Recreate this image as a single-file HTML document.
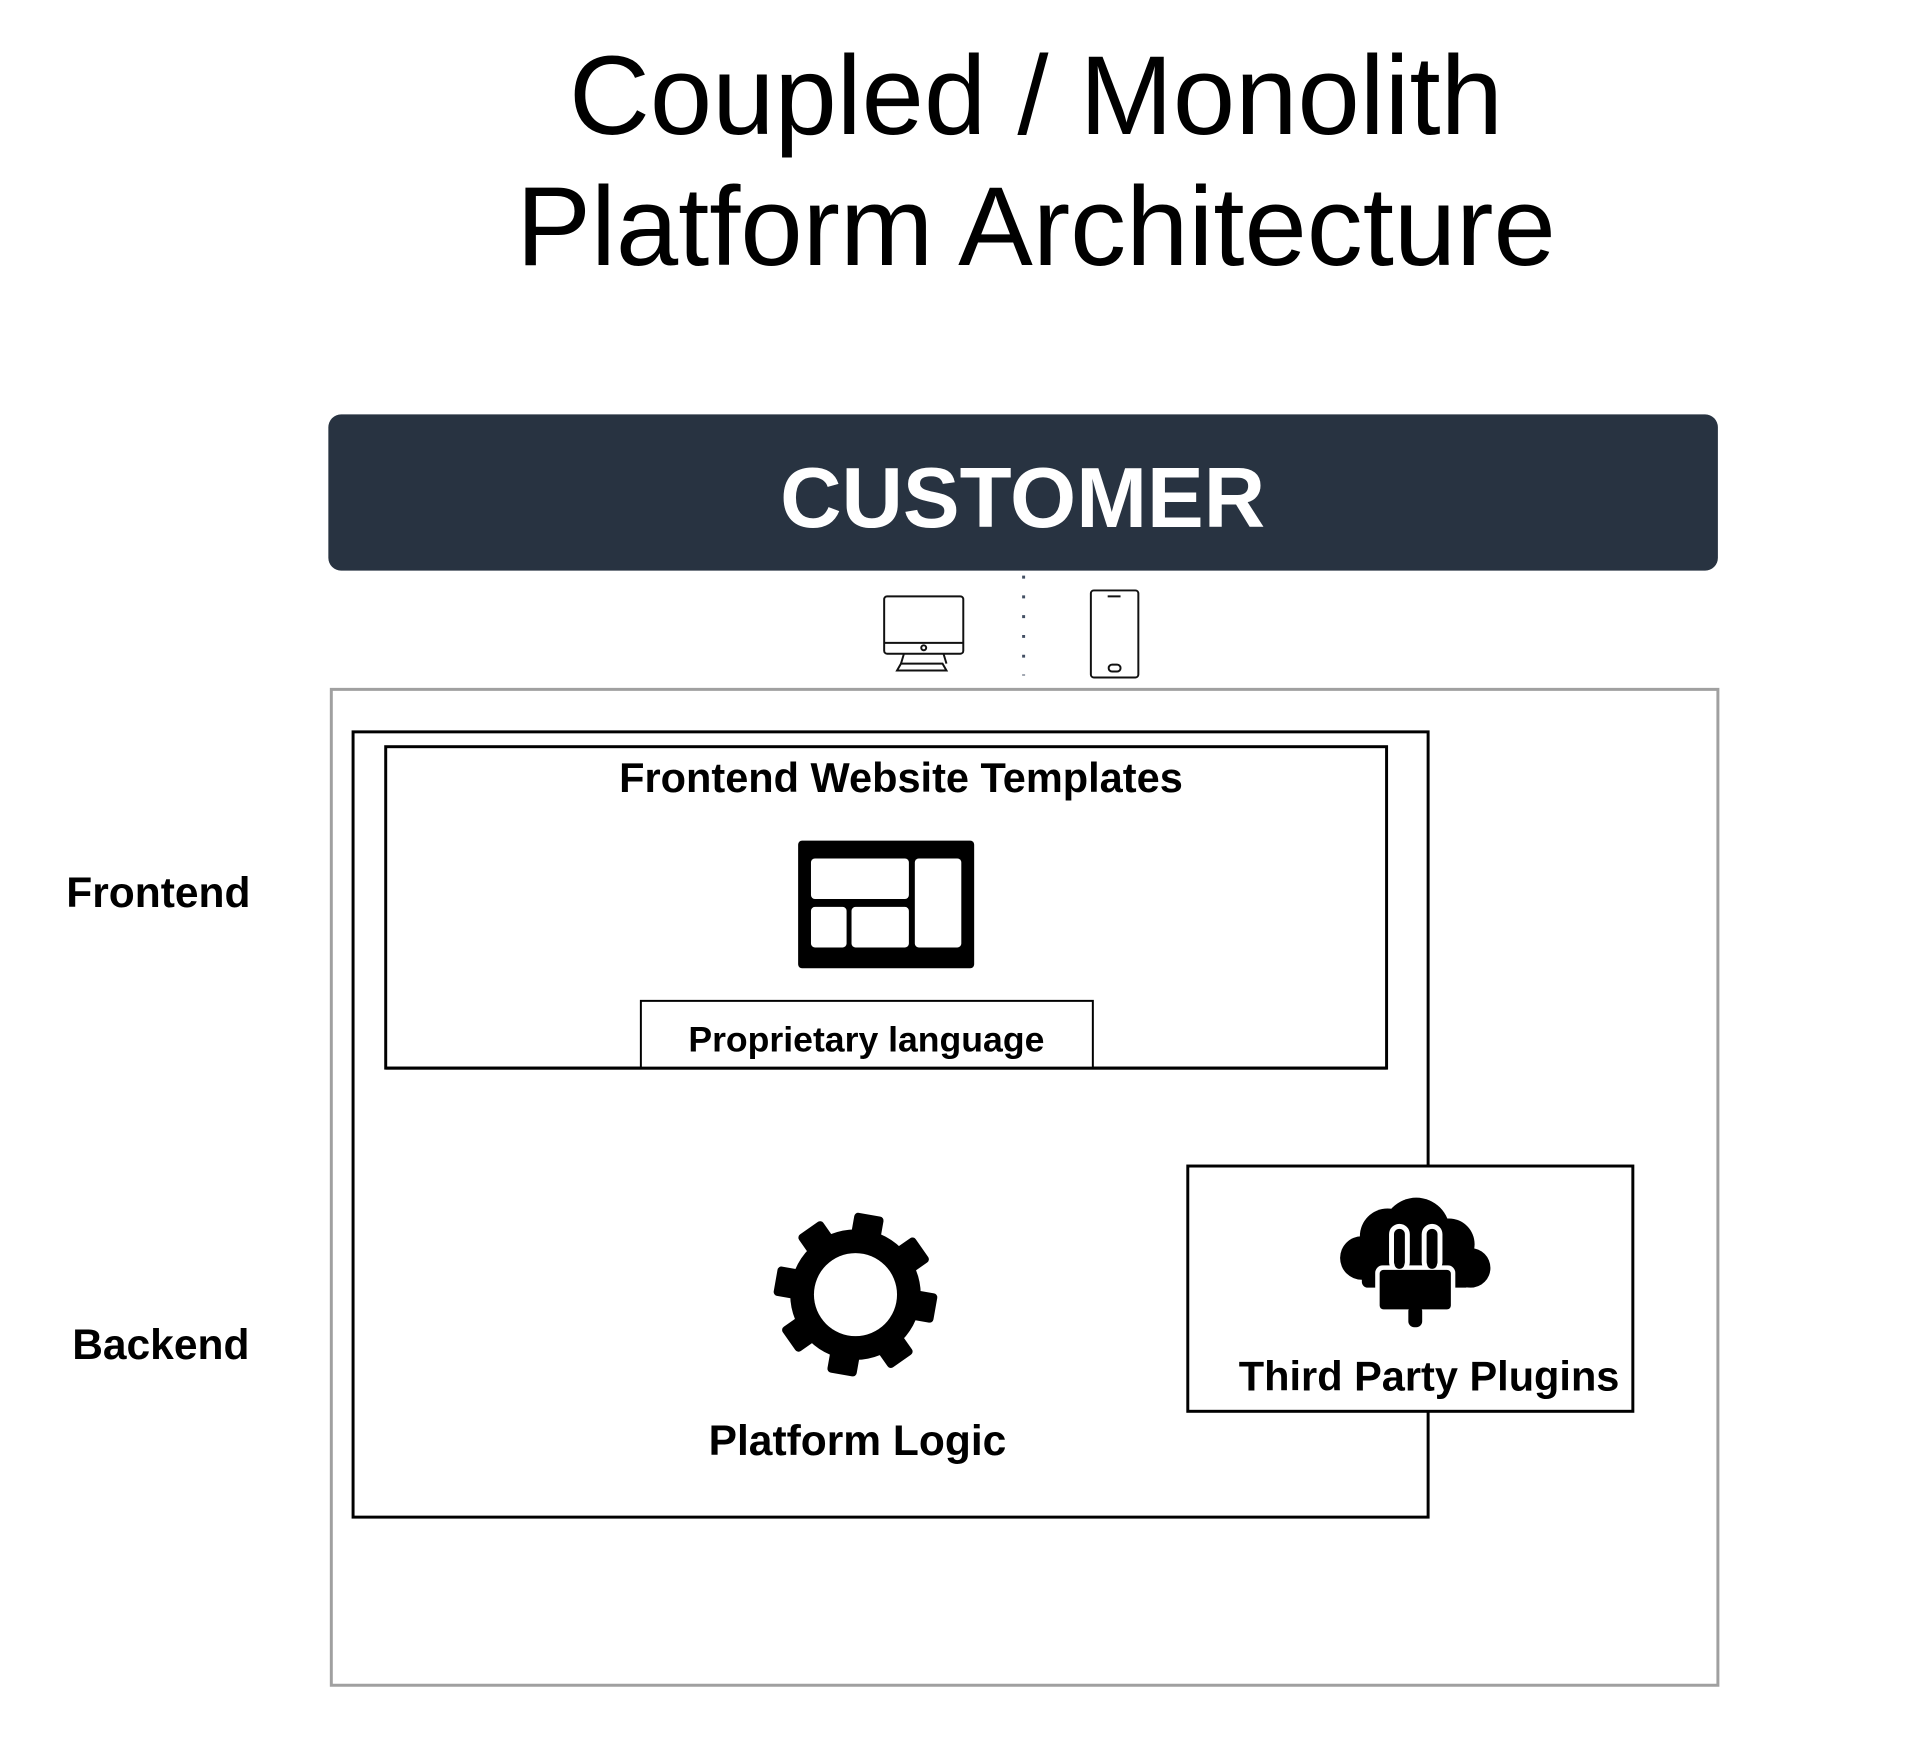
<!DOCTYPE html>
<html><head><meta charset="utf-8"><style>
html,body{margin:0;padding:0;background:#fff;}
svg{display:block;}
text{font-family:"Liberation Sans",sans-serif;}
</style></head><body>
<svg width="1918" height="1750" viewBox="0 0 1918 1750" xmlns="http://www.w3.org/2000/svg">
<text x="1036" y="134" font-size="112" text-anchor="middle" fill="#000">Coupled / Monolith</text>
<text x="1036" y="265" font-size="112" text-anchor="middle" fill="#000">Platform Architecture</text>

<g transform="scale(0.989)">
<rect x="332" y="419" width="1405" height="158" rx="13" fill="#283341"/>
<text x="1034" y="533" font-size="86" font-weight="bold" text-anchor="middle" fill="#fff">CUSTOMER</text>

<g transform="translate(0,7)">
<g fill="none" stroke="#111" stroke-width="2">
<rect x="894" y="596" width="80" height="58" rx="3"/>
<line x1="894" y1="643" x2="974" y2="643"/>
<circle cx="934" cy="648" r="2.5"/>
<path d="M914 654 L911 664 M954 654 L957 664"/>
<path d="M911 664 L953 664 L957 671 L907 671 Z"/>
<rect x="1103" y="590" width="48" height="88" rx="3"/>
<line x1="1120" y1="596" x2="1133" y2="596"/>
<rect x="1121" y="665" width="12" height="7" rx="3.5"/>
</g>
<line x1="1035" y1="575" x2="1035" y2="676" stroke="#445064" stroke-width="3" stroke-dasharray="3,17"/>
</g>

<path d="M335 697 H1737 V1704 H335 Z" fill="none" stroke="#a0a0a0" stroke-width="3"/>
<rect x="357" y="740" width="1087" height="794" fill="none" stroke="#000" stroke-width="3"/>
<rect x="390" y="755" width="1012" height="325" fill="none" stroke="#000" stroke-width="3"/>
<text x="911" y="801" font-size="42" font-weight="bold" text-anchor="middle">Frontend Website Templates</text>

<rect x="807" y="850" width="178" height="129" rx="4" fill="#000"/>
<g fill="#fff">
<rect x="820" y="868" width="99" height="41" rx="4"/>
<rect x="925" y="868" width="47" height="90" rx="4"/>
<rect x="820" y="917" width="36" height="41" rx="4"/>
<rect x="861" y="917" width="58" height="41" rx="4"/>
</g>

<rect x="648" y="1012" width="457" height="68" fill="#fff" stroke="#000" stroke-width="2"/>
<line x1="390" y1="1080" x2="1402" y2="1080" stroke="#000" stroke-width="3"/>
<text x="876" y="1063" font-size="36" font-weight="bold" text-anchor="middle">Proprietary language</text>

<text x="67" y="917" font-size="43" font-weight="bold">Frontend</text>
<text x="73" y="1374" font-size="43" font-weight="bold">Backend</text>

<g transform="translate(865,1309)">
<circle r="66" fill="#000"/>
<g fill="#000">
<rect x="-15" y="-82" width="30" height="30" rx="4" transform="rotate(10)"/>
<rect x="-15" y="-82" width="30" height="30" rx="4" transform="rotate(55)"/>
<rect x="-15" y="-82" width="30" height="30" rx="4" transform="rotate(100)"/>
<rect x="-15" y="-82" width="30" height="30" rx="4" transform="rotate(145)"/>
<rect x="-15" y="-82" width="30" height="30" rx="4" transform="rotate(190)"/>
<rect x="-15" y="-82" width="30" height="30" rx="4" transform="rotate(235)"/>
<rect x="-15" y="-82" width="30" height="30" rx="4" transform="rotate(280)"/>
<rect x="-15" y="-82" width="30" height="30" rx="4" transform="rotate(325)"/>
</g>
<circle r="42" fill="#fff"/>
</g>
<text x="867" y="1471" font-size="43" font-weight="bold" text-anchor="middle">Platform Logic</text>

<rect x="1201" y="1179" width="450" height="248" fill="#fff" stroke="#000" stroke-width="3"/>
<g fill="#000">
<circle cx="1377" cy="1272" r="22"/>
<circle cx="1403" cy="1250" r="28"/>
<circle cx="1432" cy="1245" r="34"/>
<circle cx="1465" cy="1258" r="26"/>
<circle cx="1487" cy="1282" r="20"/>
<rect x="1377" y="1260" width="110" height="42" rx="6"/>
</g>
<g fill="#000" stroke="#fff" stroke-width="5">
<rect x="1393" y="1282" width="76" height="44" rx="5"/>
</g>
<g fill="none" stroke="#fff" stroke-width="5">
<rect x="1407" y="1240" width="16" height="44" rx="8"/>
<rect x="1440" y="1240" width="16" height="44" rx="8"/>
</g>
<g fill="#000">
<rect x="1410" y="1243" width="10" height="40" rx="5"/>
<rect x="1443" y="1243" width="10" height="40" rx="5"/>
<rect x="1395" y="1284" width="72" height="40" rx="4"/>
<rect x="1424" y="1320" width="14" height="22" rx="6"/>
</g>
<text x="1445" y="1406" font-size="42" font-weight="bold" text-anchor="middle">Third Party Plugins</text>
</g>
</svg>
</body></html>
